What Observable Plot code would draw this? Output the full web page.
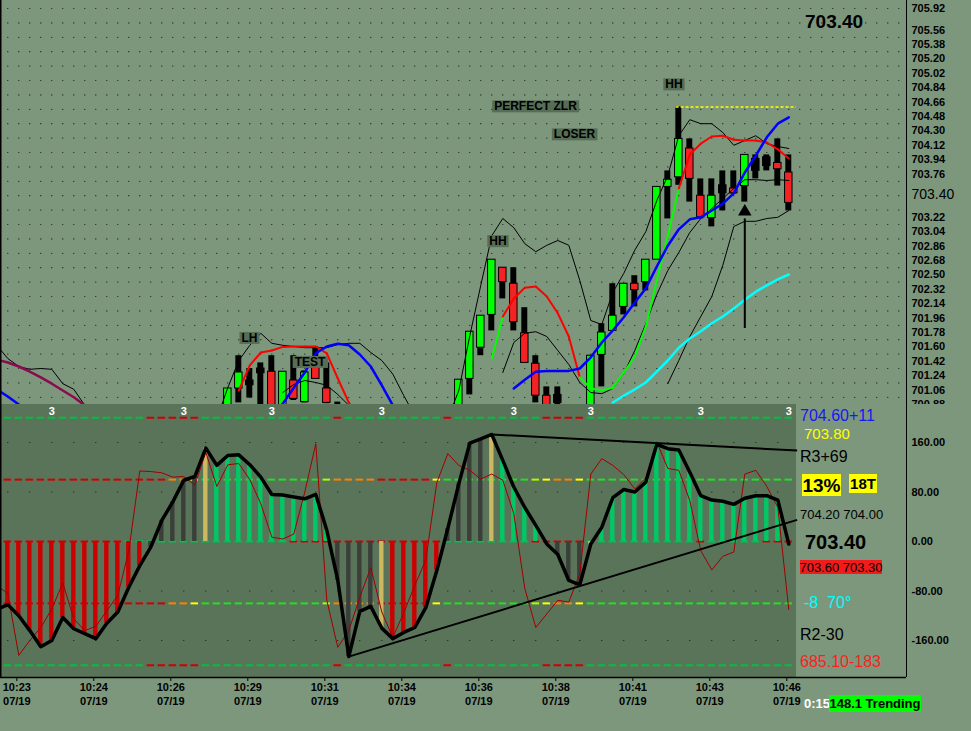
<!DOCTYPE html>
<html><head><meta charset="utf-8">
<script src="https://cdn.jsdelivr.net/npm/d3@7"></script>
<script src="https://cdn.jsdelivr.net/npm/@observablehq/plot@0.6"></script>
<style>
html,body{margin:0;padding:0;background:#7d977d;}
#wrap{position:relative;width:971px;height:731px;overflow:hidden;background:#7d977d;font-family:"Liberation Sans",Arial,sans-serif;}
#wrap svg{position:absolute;left:0;}
.lab{position:absolute;white-space:pre;line-height:1;}
.box{position:absolute;white-space:pre;line-height:1;display:flex;align-items:center;justify-content:center;}
</style></head><body><div id="wrap"></div>
<script>
// ---------------- DATA ----------------
const timeLabels = ["10:23","10:24","10:26","10:29","10:31","10:34","10:36","10:38","10:41","10:43","10:46"];
const dateLabel = "07/19";
const timeTickBars = [1,8,15,22,29,36,43,50,57,64,71];

const priceTicks = ["705.92","705.56","705.38","705.20","705.02","704.84","704.66","704.48","704.30","704.12","703.94","703.76","703.22","703.04","702.86","702.68","702.50","702.32","702.14","701.96","701.78","701.60","701.42","701.24","701.06","700.88"];
const lastPrice = 703.40;
const oscTicks = [160, 80, 0, -80, -160];
const oscLevels200 = [200, -200];
const oscLevels100 = [100, -100];

// candles: [bar, open, high, low, close, body colour]
const candles = [
  [20,700.80,701.08,700.70,701.08,"g"],[21,701.08,701.49,700.90,701.28,"g"],[22,701.18,701.33,700.96,701.12,"k"],
  [23,701.33,701.40,700.75,701.27,"k"],[24,701.29,701.49,700.75,700.80,"r"],[25,700.80,701.29,700.75,701.29,"g"],
  [26,701.18,701.49,700.93,700.95,"r"],[27,700.91,701.30,700.90,701.28,"g"],[28,701.35,701.60,701.20,701.20,"r"],
  [29,701.08,701.40,700.89,700.90,"r"],[30,700.86,700.91,700.60,700.80,"k"],
  [41,700.75,701.19,700.70,701.19,"g"],[42,701.20,701.79,701.00,701.79,"g"],[43,701.59,701.99,701.49,701.99,"g"],
  [44,702.00,702.69,701.80,702.69,"g"],[45,702.59,702.59,702.20,702.41,"r"],[46,702.39,702.59,701.80,701.91,"r"],
  [47,701.77,702.09,701.40,701.40,"r"],[48,701.39,701.49,700.90,700.99,"r"],[49,700.99,701.10,700.75,700.80,"r"],
  [50,701.00,701.10,700.75,700.90,"k"],
  [53,700.75,701.49,700.70,701.49,"g"],[54,701.50,701.89,701.10,701.78,"g"],[55,701.80,702.39,701.80,701.99,"g"],
  [56,702.10,702.39,702.00,702.39,"g"],[57,702.39,702.49,702.10,702.31,"r"],[58,702.41,702.69,702.30,702.69,"g"],
  [59,702.69,703.60,702.69,703.60,"g"],[60,703.60,703.80,703.20,703.69,"g"],[61,703.72,704.60,703.62,704.20,"g"],
  [62,704.08,704.20,703.41,703.70,"r"],[63,703.49,703.70,703.20,703.22,"r"],[64,703.21,703.70,703.10,703.49,"g"],
  [65,703.62,703.80,703.30,703.52,"k"],[66,703.58,703.80,703.51,703.52,"r"],[67,703.61,704.00,703.41,704.00,"g"],
  [68,703.95,704.00,703.70,703.80,"k"],[69,703.97,704.00,703.80,703.86,"k"],[70,703.90,704.20,703.61,703.82,"r"],
  [71,703.78,704.00,703.30,703.40,"r"]
];

// thin black envelope lines: [bar, price]
const upperBand = [
  [-1,701.62],[0,701.455],[1,701.355],[2,701.32],[3,701.33],[4,701.32],[5,701.14],[6,701.07],[7,700.87],[8,700.70],
  [19,700.70],[20,701.09],[21,701.43],[22,701.62],[23,701.77],[24,701.645],[25,701.62],[26,701.605],[27,701.59],[28,701.59],
  [29,701.59],[30,701.63],[31,701.645],[32,701.645],[33,701.53],[34,701.43],[35,701.26],[36,700.99],[37,700.74],
  [40,700.70],[41,701.055],[42,701.74],[43,702.37],[44,702.99],[45,703.205],[46,703.09],[47,702.89],[48,702.79],[49,702.87],
  [50,702.93],[51,702.87],[52,702.43],[53,701.93],[54,701.88],[55,702.28],[56,702.52],[57,702.81],[58,703.04],[59,703.43],
  [60,703.74],[61,704.24],[62,704.44],[63,704.39],[64,704.39],[65,704.28],[66,704.12],[67,704.18],[68,704.24],[69,704.14],
  [70,704.105],[71,704.08]
];
const middleBand = [
  [45,701.28],[46,701.655],[47,701.77],[48,701.79],[49,701.73],[50,701.555],[51,701.38],[52,701.155],[53,701.03],[54,701.015],
  [55,701.08],[56,701.27],[57,701.555],[58,701.89],[59,702.255],[60,702.555],[61,702.78],[62,703.03],[63,703.205],[64,703.33],
  [65,703.455],[66,703.58],[67,703.69],[68,703.69],[69,703.68],[70,703.69],[71,703.68]
];
const lowerBand = [
  [25,701.03],[26,701.13],[27,701.18],[28,701.155],[29,701.12],[30,701.005],[31,700.87],[32,700.70],
  [60,701.14],[61,701.43],[62,701.73],[63,701.98],[64,702.23],[65,702.62],[66,703.105],[67,703.17],[68,703.17],[69,703.205],
  [70,703.22],[71,703.305]
];
const purpleMA = [[-1,701.44],[0,701.405],[1,701.355],[2,701.29],[3,701.22],[4,701.14],[5,701.055],[6,700.97],[7,700.87],[8,700.78]];
const blueMA = [
  [-1,701.07],[0,700.98],[1,700.88],[2,700.78],
  [24,700.75],[25,700.89],[26,701.09],[27,701.28],[28,701.52],[29,701.605],[30,701.64],[31,701.62],[32,701.505],[33,701.355],
  [34,701.12],[35,700.87],[36,700.70],
  [46,701.08],[47,701.19],[48,701.29],[49,701.30],[50,701.30],[51,701.30],[52,701.33],[53,701.47],[54,701.655],[55,701.805],
  [56,701.97],[57,702.155],[58,702.33],[59,702.605],[60,702.865],[61,703.07],[62,703.195],[63,703.22],[64,703.305],[65,703.39],
  [66,703.52],[67,703.78],[68,703.99],[69,704.22],[70,704.39],[71,704.47]
];
const cyanMA = [
  [55,700.905],[56,700.99],[57,701.07],[58,701.155],[59,701.29],[60,701.43],[61,701.59],[62,701.705],[63,701.795],
  [64,701.895],[65,701.98],[66,702.08],[67,702.19],[68,702.29],[69,702.37],[70,702.445],[71,702.505]
];
// fast MA: [bar, price, colour of the segment ending here]
const fastMA = [
  [21,701.055,"r"],[22,701.37,"r"],[23,701.53,"r"],[24,701.555,"r"],[25,701.60,"r"],[26,701.605,"r"],[27,701.605,"r"],
  [28,701.605,"r"],[29,701.52,"r"],[30,701.205,"r"],[31,700.905,"r"],[32,700.70,"r"],
  [44,701.455,"g"],[45,701.98,"g"],[46,702.205,"r"],[47,702.34,"r"],[48,702.355,"r"],[49,702.23,"r"],[50,702.02,"r"],
  [51,701.73,"r"],[52,701.22,"r"],[53,701.08,"g"],[54,701.055,"g"],[55,701.09,"g"],[56,701.28,"g"],[57,701.48,"g"],
  [58,701.855,"g"],[59,702.43,"g"],[60,702.99,"g"],[61,703.58,"g"],[62,704.005,"r"],[63,704.14,"r"],[64,704.23,"r"],
  [65,704.24,"r"],[66,704.19,"r"],[67,704.18,"r"],[68,704.18,"r"],[69,704.155,"r"],[70,704.07,"r"],[71,703.955,"r"]
];
const hhLine = {price: 704.60, from: 60.75, to: 71.7};
const arrowMark = {bar: 67, from: 701.83, to: 703.2, tip: 703.29};
const annotations = [
  ["LH",21.97,701.71],["TEST",27.47,701.41],["HH",44.56,702.92],["HH",60.56,704.88],
  ["PERFECT ZLR",47.97,704.605],["LOSER",51.52,704.255]
];

// oscillator, bars -1 .. 71
const oscStart = -1;
const oscMain = [-110,
  -102,-120,-144,-170,-160,-123,-141,-149,-157,-132,
  -114,-74,-39,-9,34,64,99,105,151,123,
  139,140,124,104,76,75,72,69,76,18,
  -63,-186,-113,-105,-140,-157,-147,-139,-107,-47,
  21,93,159,166,173,131,88,55,26,-4,
  -21,-63,-70,-4,23,71,84,80,96,157,
  150,148,112,74,67,65,60,70,74,74,
  67,-4];
const oscFast = [-71,
  -84,-184,-160,-139,-109,-67,-125,-144,-137,-112,
  -87,-15,114,113,111,104,105,91,144,89,
  124,126,100,61,7,4,12,80,158,-95,
  -171,-144,-90,-42,-114,-155,-115,-71,-30,95,
  142,123,115,101,109,99,45,-76,-139,-117,
  -95,-98,-52,109,134,123,108,85,103,161,
  118,115,66,-15,-46,-24,-17,109,115,89,
  55,-110];
// per-bar colour states (run-length, bars 0..71)
const histRuns = [["r",13],["k",5],["t",1],["g",11],["k",4],["t",1],["r",5],["k",4],["t",1],["g",4],["k",4],["t",1],["g",17],["r",1]];
const dash200Runs = [["g",13],["r",5],["g",12],["r",1],["g",9],["r",1],["g",8],["r",4],["g",19]];
const dash100Runs = [["r",15],["o",2],["y",1],["g",11],["l",1],["o",4],["r",5],["y",1],["g",8],["l",1],["y",1],["o",2],["y",1],["g",19]];
const dash0Runs = [["r",11],["g",15],["r",14],["g",8],["r",5],["g",10],["r",1],["g",5],["r",3]];
const trendTop = [[44,173],[71.76,147]];
const trendBottom = [[31,-186],[71.76,35]];
const threeBars = [4,16,24,34,46,53,63,71];

// right-hand readouts
const readouts = [
  {t:"704.60+11", x:800, cy:416, fs:16, c:"#1818f0"},
  {t:"703.80", x:804, cy:433, fs:15, c:"#ffff00"},
  {t:"R3+69", x:800, cy:457, fs:16, c:"#000"},
  {t:"704.20 704.00", x:800, cy:514, fs:13, c:"#000"},
  {t:"703.40", x:805, cy:542, fs:20, c:"#000", fw:"bold"},
  {t:"-8  70°", x:804, cy:603, fs:16, c:"#00ffff"},
  {t:"R2-30", x:800, cy:635, fs:16, c:"#000"},
  {t:"685.10-183", x:800, cy:662, fs:16, c:"#ff1e1e"},
  {t:"0:15", x:804, cy:703, fs:13, c:"#fff", fw:"bold"},
  {t:"703.40", x:805, cy:21, fs:19, c:"#000", fw:"bold"}
];
const boxedReadouts = [
  {t:"13%", x:802, y:474, w:39, h:22, fs:19, bg:"#ffff00", fw:"bold"},
  {t:"18T", x:849, y:474, w:28, h:19, fs:15, bg:"#ffff00", fw:"bold"},
  {t:"703.60 703.30", x:800, y:560, w:82, h:14, fs:13, bg:"#f01c1c"},
  {t:"148.1 Trending", x:829, y:695, w:92, h:17, fs:13, bg:"#00ff00", fw:"bold"}
];

// ---------------- STYLE / LAYOUT ----------------
const W = 971, TOPH = 404, BOTH = 327;
const xDom = [-0.664, 81.7];
const panelEnd = 71.7;
const priceDom = [700.88, 705.93];
const oscDom = [-219.8, 221.4];
const BG = "#7d977d", PANEL = "#5a745a", LABELBOX = "#566e56";
const FONT = "Liberation Sans, Arial, sans-serif";
const bodyCol = {g:"#00ff00", r:"#f42222", k:"#000"};
const histCol = {r:"#cc0000", k:"#3a3f3a", t:"#ccb860", g:"#00c864"};
const dashCol = {g:"#00c040", r:"#d00000", o:"#ff8000", y:"#ffff00", l:"#a8ff00"};
const dash100Col = {...dashCol, g:"#22e022"};

const expand = runs => runs.flatMap(([c, n]) => Array(n).fill(c));
const segs = rows => { let s = 0; return rows.map((r, k) => { if (k && r[0] - rows[k-1][0] > 1) s++; return {bar:r[0], v:r[1], seg:s}; }); };

const topGrid = [];
for (let b = 0; b <= 81; b++) for (let k = 0; k < 28; k++) topGrid.push({bar:b, p:705.83 - 0.18*k});
const botGrid = [];
for (let b = 0; b <= 70; b += 2) for (const v of [160, 80, -80, -160]) botGrid.push({bar:b, v});

const fastLinks = [];
for (let k = 1; k < fastMA.length; k++) {
  if (fastMA[k][0] - fastMA[k-1][0] === 1)
    fastLinks.push({x1:fastMA[k-1][0], y1:fastMA[k-1][1], x2:fastMA[k][0], y2:fastMA[k][1], c:fastMA[k][2]});
}
const priceTickNums = priceTicks.map(Number);

const osc = oscMain.map((v, k) => ({bar: oscStart + k, v}));
const oscF = oscFast.map((v, k) => ({bar: oscStart + k, v}));
const histC = expand(histRuns);
const hist = histC.map((c, b) => ({bar:b, v:oscMain[b - oscStart], c}));
const d200 = expand(dash200Runs), d100 = expand(dash100Runs), d0 = expand(dash0Runs);
const dashes = [];
d200.forEach((c, b) => oscLevels200.forEach(lv => dashes.push({bar:b, lv, col:dashCol[c]})));
d100.forEach((c, b) => oscLevels100.forEach(lv => dashes.push({bar:b, lv, col:dash100Col[c]})));
d0.forEach((c, b) => dashes.push({bar:b, lv:0, col: c === "g" ? "#00c050" : "#d00000"}));
const tickLab = new Map(timeTickBars.map((b, k) => [b, timeLabels[k] + "\n" + dateLabel]));

// ---------------- TOP PANEL ----------------
const topPlot = Plot.plot({
  width: W, height: TOPH, marginLeft: 0, marginRight: W - 906, marginTop: 0, marginBottom: 0,
  style: {background: "transparent", fontFamily: FONT, overflow: "hidden"},
  x: {domain: xDom, axis: null},
  y: {domain: priceDom, axis: null},
  color: {type: "identity"},
  marks: [
    Plot.dot(topGrid, {x:"bar", y:"p", r:0.6, fill:"#101010", stroke:null, clip:true}),
    Plot.rect(candles, {x1:d=>d[0]-0.27, x2:d=>d[0]+0.27, y1:d=>d[3], y2:d=>d[2], fill:"#000", clip:true}),
    Plot.rect(candles, {x1:d=>d[0]-0.34, x2:d=>d[0]+0.34, y1:d=>d[1], y2:d=>d[4], fill:d=>bodyCol[d[5]], stroke:"#000", strokeWidth:1, clip:true}),
    Plot.line(segs(upperBand), {x:"bar", y:"v", z:"seg", stroke:"#000", strokeWidth:1, clip:true}),
    Plot.line(segs(middleBand), {x:"bar", y:"v", z:"seg", stroke:"#000", strokeWidth:1, clip:true}),
    Plot.line(segs(lowerBand), {x:"bar", y:"v", z:"seg", stroke:"#000", strokeWidth:1, clip:true}),
    Plot.line(segs(purpleMA), {x:"bar", y:"v", z:"seg", stroke:"#8c0a50", strokeWidth:2.5, clip:true}),
    Plot.line(segs(cyanMA), {x:"bar", y:"v", z:"seg", stroke:"#00ffff", strokeWidth:2.5, clip:true}),
    Plot.link(fastLinks, {x1:"x1", y1:"y1", x2:"x2", y2:"y2", stroke:d=>d.c === "g" ? "#00ff00" : "#ff0000", strokeWidth:2, strokeLinecap:"round", clip:true}),
    Plot.line(segs(blueMA), {x:"bar", y:"v", z:"seg", stroke:"#0000ff", strokeWidth:2.5, clip:true}),
    Plot.ruleY([hhLine], {y:"price", x1:"from", x2:"to", stroke:"#ffff00", strokeWidth:1.5, strokeDasharray:"3,2"}),
    Plot.ruleX([arrowMark], {x:"bar", y1:"from", y2:"to", stroke:"#000", strokeWidth:2}),
    Plot.dot([arrowMark], {x:"bar", y:"tip", symbol:"triangle", r:5, fill:"#000", stroke:null}),
    Plot.text(annotations, {x:d=>d[1], y:d=>d[2], text:d=>d[0], fontSize:12, fontWeight:"bold", fill:"#000", className:"anno", ariaDescription:"anno"}),
    Plot.ruleX([xDom[0]], {stroke:"#000", strokeWidth:2}),
    Plot.ruleX([xDom[1]], {stroke:"#000", strokeWidth:1}),
    Plot.axisY(priceTickNums.slice(1), {anchor:"right", tickSize:0, tickPadding:5, tickFormat:d=>d.toFixed(2), fontSize:11, fontWeight:"bold", label:null}),
    Plot.axisY(priceTickNums.slice(0,1), {anchor:"right", tickSize:0, tickPadding:5, tickFormat:d=>d.toFixed(2), fontSize:11, fontWeight:"bold", label:null, dy:7}),
    Plot.text([lastPrice], {frameAnchor:"right", y:d=>d, text:d=>d.toFixed(2), dx:5, dy:-8, textAnchor:"start", fontSize:14, fill:"#000", className:"cur", ariaDescription:"cur"})
  ]
});

// ---------------- OSCILLATOR PANEL ----------------
const botPlot = Plot.plot({
  width: W, height: BOTH, marginLeft: 0, marginRight: W - 906, marginTop: 0, marginBottom: BOTH - 273,
  style: {background: "transparent", fontFamily: FONT, overflow: "visible"},
  x: {domain: xDom, axis: null},
  y: {domain: oscDom, axis: null},
  color: {type: "identity"},
  marks: [
    Plot.rect([0], {x1:()=>xDom[0], x2:()=>panelEnd, y1:()=>oscDom[0], y2:()=>oscDom[1], fill:PANEL}),
    Plot.dot(botGrid, {x:"bar", y:"v", r:0.6, fill:"#101010", stroke:null}),
    Plot.ruleY(dashes, {y:"lv", x1:d=>d.bar-0.34, x2:d=>d.bar+0.34, stroke:"col", strokeWidth:2}),
    Plot.rect(hist, {x1:d=>d.bar-0.2, x2:d=>d.bar+0.2, y1:()=>0, y2:"v", fill:d=>histCol[d.c]}),
    Plot.line(oscF, {x:"bar", y:"v", stroke:"#a00000", strokeWidth:1, clip:true}),
    Plot.link([trendTop, trendBottom], {x1:d=>d[0][0], y1:d=>d[0][1], x2:d=>d[1][0], y2:d=>d[1][1], stroke:"#000", strokeWidth:2}),
    Plot.line(osc, {x:"bar", y:"v", stroke:"#000", strokeWidth:3.5, strokeLinejoin:"round", clip:true}),
    Plot.text(threeBars, {x:d=>d, frameAnchor:"top", dy:3, text:()=>"3", fill:"#fff", fontSize:11, fontWeight:"bold"}),
    Plot.ruleX([xDom[0]], {stroke:"#000", strokeWidth:2}),
    Plot.ruleX([xDom[1]], {stroke:"#000", strokeWidth:1}),
    Plot.ruleY([oscDom[0]], {stroke:"#000", strokeWidth:1.5}),
    Plot.axisY(oscTicks, {anchor:"right", tickSize:0, tickPadding:5, tickFormat:d=>d.toFixed(2), fontSize:11, fontWeight:"bold", label:null}),
    Plot.axisX(timeTickBars, {anchor:"bottom", tickSize:4, tickPadding:-1, tickFormat:d=>tickLab.get(d), fontSize:11, fontWeight:"bold", lineHeight:1.3, label:null, dx:-2})
  ]
});

const wrap = document.getElementById("wrap");
topPlot.style.top = "0px";
botPlot.style.top = TOPH + "px";
wrap.appendChild(botPlot);
wrap.appendChild(topPlot);

function addBoxes(svg, cls, fill, px, py) {
  let texts = svg.querySelectorAll(`g.${cls} text`);
  if (!texts.length) texts = svg.querySelectorAll(`g[aria-description="${cls}"] text`);
  texts.forEach(t => {
    const b = t.getBBox();
    const r = document.createElementNS("http://www.w3.org/2000/svg", "rect");
    r.setAttribute("x", b.x - px); r.setAttribute("y", b.y - py);
    r.setAttribute("width", b.width + 2*px); r.setAttribute("height", b.height + 2*py);
    r.setAttribute("fill", fill);
    const tr = t.getAttribute("transform"); if (tr) r.setAttribute("transform", tr);
    t.parentNode.insertBefore(r, t);
  });
}
addBoxes(topPlot, "anno", LABELBOX, 2, -1);
addBoxes(topPlot, "cur", BG, 1, 0);

for (const r of readouts) {
  const d = document.createElement("div");
  d.className = "lab"; d.textContent = r.t;
  d.style.left = r.x + "px"; d.style.top = (r.cy - 0.5*r.fs) + "px";
  d.style.fontSize = r.fs + "px"; d.style.color = r.c; d.style.fontWeight = r.fw || "normal";
  wrap.appendChild(d);
}
for (const r of boxedReadouts) {
  const d = document.createElement("div");
  d.className = "box"; d.textContent = r.t;
  Object.assign(d.style, {left:r.x+"px", top:r.y+"px", width:r.w+"px", height:r.h+"px", fontSize:r.fs+"px", background:r.bg, color:"#000", fontWeight:r.fw || "normal"});
  wrap.appendChild(d);
}
</script></body></html>
